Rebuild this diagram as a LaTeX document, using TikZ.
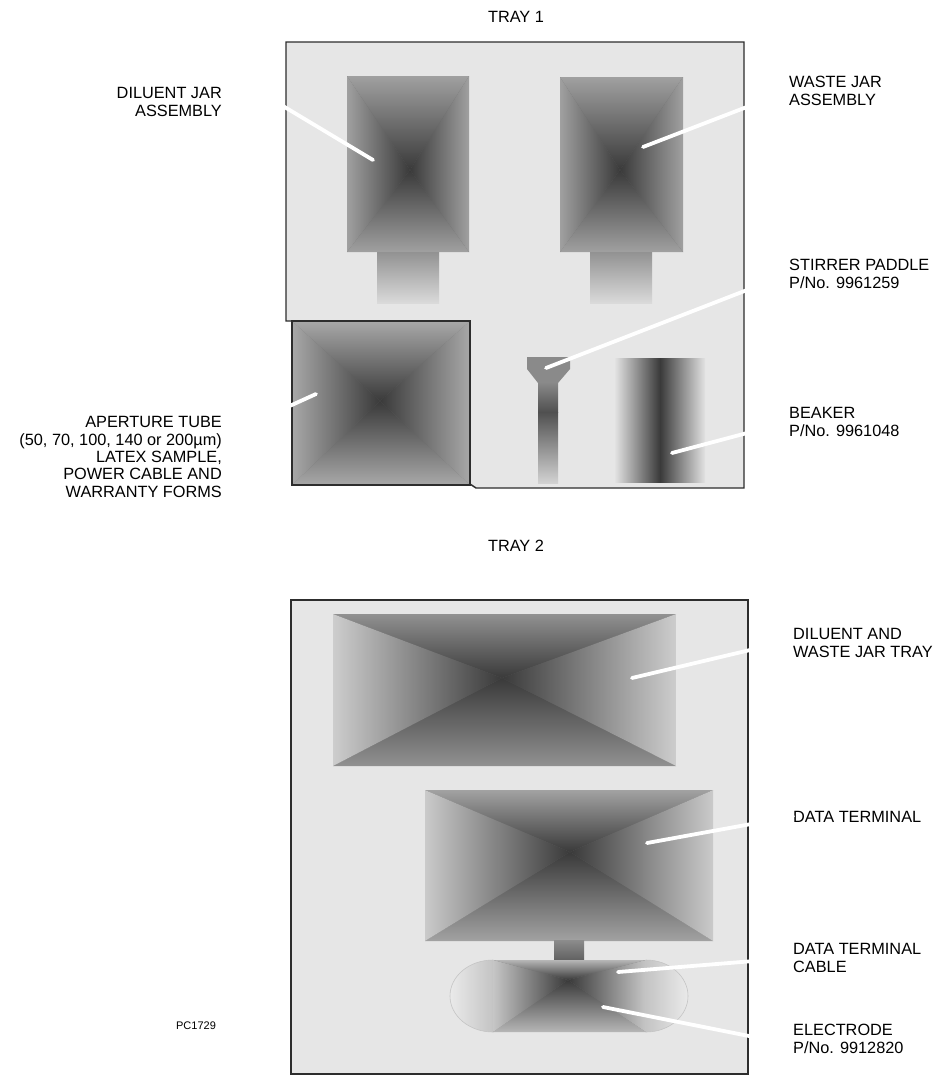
\documentclass[tikz,border=0pt]{standalone}
\usepackage{fontspec}
\setmainfont{Liberation Sans}
\usepackage{tikz}
\usepackage{xcolor}
\usetikzlibrary{
    calc
}
\definecolor{TrayGray}{RGB}{230,230,230}
\definecolor{TrayEdge}{RGB}{45,45,45}
\definecolor{ItemDark}{RGB}{58,58,58}
\definecolor{JarEdge}{RGB}{160,160,160}
\definecolor{NeckTop}{RGB}{146,146,146}
\definecolor{NeckBot}{RGB}{218,218,218}
\definecolor{ApEdge}{RGB}{168,168,168}
\definecolor{PaddleHead}{RGB}{138,138,138}
\definecolor{PaddleDark}{RGB}{80,80,80}
\definecolor{PaddleLow}{RGB}{210,210,210}
\definecolor{BeakerLight}{RGB}{226,226,226}
\definecolor{WideV}{RGB}{145,145,145}
\definecolor{WideH}{RGB}{205,205,205}
\definecolor{TermV}{RGB}{162,162,162}
\definecolor{TermH}{RGB}{202,202,202}
\definecolor{CableTop}{RGB}{140,140,140}
\definecolor{CableBot}{RGB}{95,95,95}
\definecolor{ElecV}{RGB}{182,182,182}
\definecolor{ElecH}{RGB}{198,198,198}
\definecolor{CapLight}{RGB}{234,234,234}
\definecolor{CapDark}{RGB}{196,196,196}
\tikzset{
  tray/.style    = {draw=TrayEdge, line width=1.4pt, fill=TrayGray},
  lbl/.style     = {font=\fontsize{16.3}{17.3}\selectfont, inner sep=0pt, align=left},
  lblr/.style    = {font=\fontsize{16.3}{17.3}\selectfont, inner sep=0pt, align=right},
  leader/.style  = {white, line width=3.8pt, line cap=round},
  endcap/.style  = {draw=CapDark, line width=0.6pt}
}
\newcommand{\pyrshade}[9]{%
  \fill[#9!55!#7] (#1,#2) rectangle (#3,#4);
  \shade[top color=#7, bottom color=#9] (#1,#2) -- (#3,#2) -- (#5,#6) -- cycle;
  \shade[top color=#9, bottom color=#7] (#1,#4) -- (#3,#4) -- (#5,#6) -- cycle;
  \shade[left color=#8, right color=#9] (#1,#2) -- (#1,#4) -- (#5,#6) -- cycle;
  \shade[left color=#9, right color=#8] (#3,#2) -- (#3,#4) -- (#5,#6) -- cycle;
}

\begin{document}
\begin{tikzpicture}[x=1pt,y=-1pt]
\useasboundingbox[fill=white] (0,0) rectangle (944,1076);

\draw[tray] (286,42) -- (744,42) -- (744,488) -- (476,488) -- (470,484) -- (470,321) -- (286,321) -- cycle;
\pyrshade{347}{76}{469}{252}{410}{170}{JarEdge}{JarEdge}{ItemDark}
\shade[top color=NeckTop, bottom color=NeckBot] (377,252) rectangle (439,303);
\pyrshade{560}{77}{683}{252}{620}{170}{JarEdge}{JarEdge}{ItemDark}
\shade[top color=NeckTop, bottom color=NeckBot] (590,252) rectangle (652,303);
\pyrshade{292}{321}{470}{485}{380}{401}{ApEdge}{ApEdge}{ItemDark}
\draw[TrayEdge, line width=1.2pt] (292,321) rectangle (470,485);
\fill[PaddleHead] (527,357) -- (570,357) -- (570,369) -- (558,383) -- (538,383) -- (527,369) -- cycle;
\shade[top color=PaddleHead, bottom color=PaddleDark] (538,382) rectangle (558,412);
\shade[top color=PaddleDark, bottom color=PaddleLow] (538,412) rectangle (558,483);
\shade[left color=BeakerLight, right color=BeakerLight, middle color=ItemDark] (615,358) rectangle (705,482);

\draw[tray] (291,600) rectangle (748,1074);
\pyrshade{333}{614}{676}{766}{502}{678}{WideV}{WideH}{ItemDark}
\pyrshade{425}{790}{713}{941}{570}{852}{TermV}{TermH}{ItemDark}
\shade[top color=CableTop, bottom color=CableBot] (554,940) rectangle (584,961);
\shade[endcap, left color=CapLight, right color=CapDark] (493,960) arc[start angle=270, end angle=90, x radius=43, y radius=36] -- cycle;
\shade[endcap, left color=CapDark, right color=CapLight] (646,960) arc[start angle=-90, end angle=90, x radius=42, y radius=36] -- cycle;
\pyrshade{493}{960}{646}{1032}{568}{980}{ElecV}{ElecH}{ItemDark}

\coordinate (dj-tip) at (373,160);
\coordinate (wj-tip) at (643,147);
\coordinate (ap-tip) at (316,394);
\coordinate (sp-tip) at (546,368);
\coordinate (bk-tip) at (672,453);
\coordinate (dw-tip) at (632,678);
\coordinate (dt-tip) at (647,843);
\coordinate (cb-tip) at (618,972);
\coordinate (el-tip) at (603,1007);

\node[lbl, anchor=base] (t1-lbl) at (516,23) {TRAY 1};
\node[lbl, anchor=base] (t2-lbl) at (516,551) {TRAY 2};
\node[lblr, anchor=base east] (dj-lbl) at (222,116) {DILUENT JAR\\ASSEMBLY};
\node[lbl, anchor=base west] (wj-lbl) at (789,105) {WASTE JAR\\ASSEMBLY};
\node[lbl, anchor=base west] (sp-lbl) at (789,288) {STIRRER PADDLE\\P/No. 9961259};
\node[lbl, anchor=base west] (bk-lbl) at (789,436) {BEAKER\\P/No. 9961048};
\node[lblr, anchor=base east] (ap-lbl) at (222,497) {APERTURE TUBE\\(50, 70, 100, 140 or 200µm)\\LATEX SAMPLE,\\POWER CABLE AND\\WARRANTY FORMS};
\node[lbl, anchor=base west] (dw-lbl) at (793,657) {DILUENT AND\\WASTE JAR TRAY};
\node[lbl, anchor=base west] (dt-lbl) at (793,822) {DATA TERMINAL};
\node[lbl, anchor=base west] (cb-lbl) at (793,972) {DATA TERMINAL\\CABLE};
\node[lbl, anchor=base west] (el-lbl) at (793,1053) {ELECTRODE\\P/No. 9912820};
\node[font=\fontsize{11}{12}\selectfont, inner sep=0pt, anchor=base] (pc-lbl) at (196,1029) {PC1729};

\draw[leader] (dj-tip) -- ($(dj-lbl.north east)+(8,-13)$);
\draw[leader] (wj-tip) -- (wj-lbl.west);
\draw[leader] (ap-tip) -- ($(ap-lbl.north east)+(14,14)$);
\draw[leader] (sp-tip) -- (sp-lbl.west);
\draw[leader] (bk-tip) -- (bk-lbl.west);
\draw[leader] (dw-tip) -- ($(dw-lbl.west)+(0,-3)$);
\draw[leader] (dt-tip) -- (dt-lbl.west);
\draw[leader] (cb-tip) -- (cb-lbl.west);
\draw[leader] (el-tip) -- ($(el-lbl.west)+(0,6)$);
\end{tikzpicture}
\end{document}
